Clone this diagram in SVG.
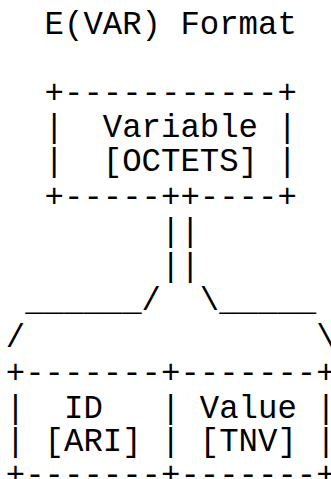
<svg xmlns="http://www.w3.org/2000/svg" width="331" height="479" viewBox="0 0 331 479" xml:space="preserve">
<style>
text { font-family: "Liberation Mono", "Courier New", monospace; font-size: 32.33px; fill: #000; white-space: pre; }
</style>
<rect width="331" height="479" fill="#fff"/>
<g id="title">
<text x="44.6" y="33.8">E(VAR) Format</text>
</g>
<g id="node-variable">
<text x="44.6" y="102.6">+-----------+</text>
<text x="44.6" y="137.2">|  Variable |</text>
<text x="44.6" y="171.4">|  [OCTETS] |</text>
<text x="44.6" y="206.8">+-----++----+</text>
</g>
<g id="connectors">
<text x="161" y="241">||</text>
<text x="161" y="275.6">||</text>
<text x="25.2" y="309.5">______/  \_____</text>
<text x="5.8" y="346.5">/               \</text>
</g>
<g id="node-id-value">
<text x="5.8" y="383.4">+-------+-------+</text>
<text x="5.8" y="417.5">|  ID   | Value |</text>
<text x="5.8" y="450.8">| [ARI] | [TNV] |</text>
<text x="5.8" y="484.6">+-------+-------+</text>
</g>
</svg>
